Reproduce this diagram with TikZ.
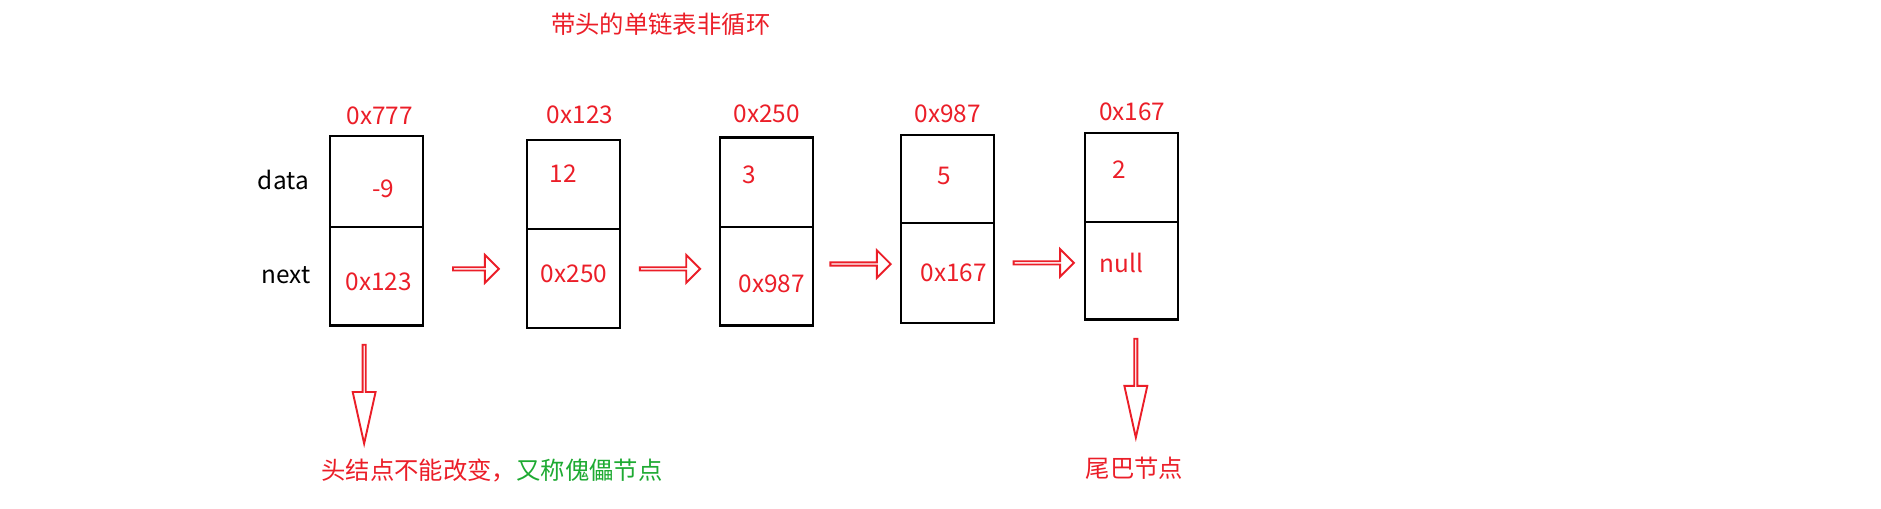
\documentclass[tikz,border=0pt]{standalone}
\usepackage{fontspec}
\setmainfont{Noto Sans CJK SC}
\usetikzlibrary{shapes.arrows}
\definecolor{rd}{RGB}{235,30,40}
\definecolor{gn}{RGB}{30,170,50}
\begin{document}
\begin{tikzpicture}[x=0.02cm,y=-0.02cm,
  txt/.style={font=\fontsize{11.5}{13}\selectfont,text=rd,inner sep=0pt},
  lbl/.style={font=\fontsize{11.5}{13}\selectfont,text=black,inner sep=0pt},
  harr/.style={single arrow,draw=rd,line width=0.9pt,fill=white,minimum height=1cm,minimum width=0.46cm,single arrow head extend=0.12cm,inner sep=0pt},
  varr/.style={single arrow,draw=rd,line width=0.9pt,fill=white,minimum height=1.64cm,minimum width=0.38cm,single arrow head extend=0.1cm,shape border rotate=270,inner sep=0pt,single arrow tip angle=25}]
\useasboundingbox (0,0) rectangle (1560,422);
\node[txt] (title) at (548,20) {带头的单链表非循环};
\foreach \n/\x/\t/\m/\b in {1/274/113/188/270, 2/437/116/190/272, 3/597/114/188/270, 4/747/112/185/268, 5/900/110/184/265}{
  \draw[line width=1pt] (\x,\t) rectangle (\x+77,\b);
  \draw[line width=1pt] (\x,\m) -- (\x+77,\m);
}
\node[txt] (a1) at (315,96) {0x777};
\node[txt] (a2) at (481,95) {0x123};
\node[txt] (a3) at (636,94) {0x250};
\node[txt] (a4) at (786,94) {0x987};
\node[txt] (a5) at (939,93) {0x167};
\node[txt] (d1) at (318,157) {-9};
\node[txt] (d2) at (467,144) {12};
\node[txt] (d3) at (621,145) {3};
\node[txt] (d4) at (783,146) {5};
\node[txt] (d5) at (928,141) {2};
\node[txt] (n1) at (314,234) {0x123};
\node[txt] (n2) at (476,227) {0x250};
\node[txt] (n3) at (640,235) {0x987};
\node[txt] (n4) at (791,226) {0x167};
\node[txt] (n5) at (930,218) {null};
\node[lbl] (data) at (235,149) {data};
\node[lbl] (next) at (237,228) {next};
\node[harr,minimum height=0.76cm] (h1) at (394,223) {};
\node[harr] (h2) at (555,223) {};
\node[harr] (h3) at (713,219) {};
\node[harr] (h4) at (865,218) {};
\node[varr] (v1) at (302,324) {};
\node[varr] (v2) at (942,319) {};
\node[txt] (foot1) at (408,390) {头结点不能改变，\textcolor{gn}{又称傀儡节点}};
\node[txt] (foot2) at (941,388) {尾巴节点};
\end{tikzpicture}
\end{document}
